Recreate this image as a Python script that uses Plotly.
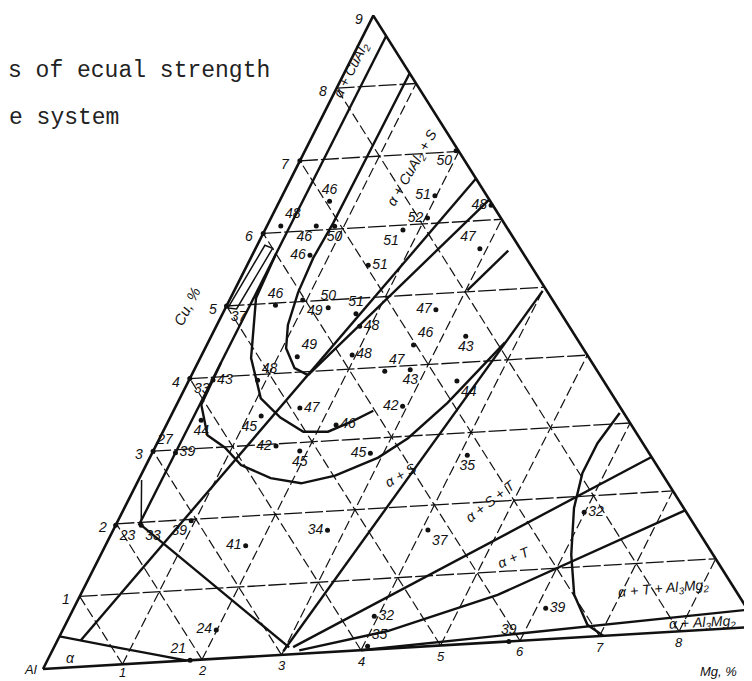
import plotly.graph_objects as go

# Moldura da folha escaneada: canto do Al e passo de 1 % em Mg e em Cu
ORIGEM = (35, 661)
PASSO_MG = (79.5, -4.7)
PASSO_CU = (36.7, -72.6)

COR = '#111111'
FONTE_NUM = 'Liberation Sans Narrow, Liberation Sans, Arial'
FONTE_MAQ = 'Liberation Mono, Courier New, monospace'

# Escalas dos eixos (%)
ticks_mg = [1, 2, 3, 4, 5, 6, 7, 8, 9]
ticks_cu = [1, 2, 3, 4, 5, 6, 7, 8, 9]
grade = [1, 2, 3, 4, 5, 6, 7, 8]

# Limites de fase (Mg %, Cu %)
cual2_mg = [0.3, 0.3]
cual2_cu = [1.96, 8.7]
alfa_s_mg = [0.3, 2.4]
alfa_s_cu = [0.37, 6.6]
solvus_mg = [0.0, 0.31, 0.83, 1.4, 1.8]
solvus_cu = [0.45, 0.37, 0.24, 0.10, 0.0]
baixo_mg = [0.33, 3.05]
baixo_cu = [1.96, 0.1]
gancho_mg = [0.33, 0.22, 0.1, 0.04]
gancho_cu = [1.96, 2.2, 2.45, 2.6]
p0_mg = [3.0, 4.0]
p0_cu = [0.05, 4.95]
p1_mg = [3.1, 6.5]
p1_cu = [0.1, 2.5]
p2_mg = [3.2, 4.22, 5.41, 7.28]
p2_cu = [0.05, 0.25, 0.67, 1.71]
p3_mg = [4.0, 8.75]
p3_cu = [0.0, 0.25]
direita_mg = [5.80, 5.71, 5.71, 5.83, 6.10, 6.40, 6.77, 7.05]
direita_cu = [3.15, 2.74, 2.33, 1.84, 1.18, 0.61, 0.17, 0.0]
trecho_mg = [3.02, 3.29]
trecho_cu = [5.02, 5.55]
caixa_mg = [0.03, 0.10, 0.22, 0.15, 0.03]
caixa_cu = [4.97, 5.83, 5.78, 4.95, 4.97]

# Linhas de igual resistencia
u1_mg = [0.85, 0.85, 0.84, 0.81, 0.84, 0.92, 1.05, 1.29, 1.51]
u1_cu = [8.15, 6.98, 6.09, 5.61, 5.13, 4.68, 4.35, 4.06, 3.95]
u1b_mg = [1.51, 2.02, 2.71]
u1b_cu = [3.95, 4.94, 6.29]
u2_mg = [0.3, 0.33, 0.66, 1.05, 1.43, 1.82, 2.14, 2.39, 2.59]
u2_cu = [5.7, 5.09, 4.24, 3.66, 3.37, 3.15, 3.13, 3.26, 3.39]
u3_mg = [0.3, 0.32, 0.6, 0.91, 1.23, 1.70, 2.13, 2.52, 2.96, 3.22, 3.5, 3.85]
u3_cu = [4.2, 3.62, 3.18, 2.99, 2.73, 2.52, 2.42, 2.50, 2.72, 2.97, 3.44, 4.25]

# Ligas ensaiadas: composicao e resistencia
liga_mg = [1.96, 1.98, 2.03, 2.77, 2.91, 0.65, 0.18, 0.64, 0.88, 0.75, 1.79, 1.57,
           0.63, 1.33, 1.73, 0.95, 1.25, 1.95, 1.86, 2.48, 2.74, 2.68, 3.30, 2.80,
           3.48, 2.94, 0.89, 0.31, 0.0, 1.62, 2.20, 0.0, 0.3, 0.42, 1.17, 1.56,
           1.90, 2.83, 4.10, 4.08, 2.78, 1.82, 0.95, 0.33, 0.0, 1.99, 1.85, 3.95,
           4.06, 5.86, 6.12, 5.99, 0.0, 0.0, 0.0]
liga_cu = [7.01, 6.39, 6.08, 6.21, 5.60, 6.40, 6.09, 6.06, 6.04, 5.65, 5.93, 5.46,
           4.97, 4.89, 4.78, 5.02, 4.22, 4.20, 4.60, 3.94, 4.77, 4.29, 4.37, 3.94,
           3.74, 3.43, 3.92, 3.96, 4.0, 3.49, 3.22, 3.0, 2.96, 3.40, 3.41, 2.97,
           2.88, 2.79, 2.68, 1.65, 1.73, 1.58, 1.98, 1.96, 1.98, 0.41, 0.0, 0.47,
           0.05, 0.0, 0.44, 1.77, 5.0, 7.0, 6.0]
liga_txt = ['50', '51', '52', '48', '47', '46', '48', '46', '50', '46', '51', '51',
            '46', '50', '51', '49', '49', '48', '48', '47', '47', '46', '43', '43',
            '44', '42', '48', '43', '33', '47', '46', '27', '39', '44', '45', '42',
            '45', '45', '35', '37', '34', '41', '39', '33', '23', '24', '21', '32',
            '35', '39', '39', '32', '37', '', '']
pos_txt = ['bottom left', 'middle left', 'middle left', 'middle left', 'top left',
           'top center', 'top right', 'bottom left', 'bottom center', 'middle left',
           'bottom left', 'middle right', 'top center', 'top center', 'top center',
           'bottom right', 'top right', 'middle right', 'middle right', 'top right',
           'middle left', 'top right', 'bottom center', 'bottom center', 'bottom right',
           'middle left', 'top right', 'middle right', 'bottom right', 'middle right',
           'middle right', 'top right', 'middle right', 'bottom center', 'bottom left',
           'middle left', 'bottom center', 'middle left', 'bottom center', 'bottom right',
           'middle left', 'middle left', 'bottom left', 'bottom right', 'bottom right',
           'middle left', 'top left', 'middle right', 'top right', 'top center',
           'middle right', 'middle right', 'bottom right', 'middle right', 'middle right']

# Campos de fase
campo_txt = ['α + CuAl<sub>2</sub>', 'α + CuAl<sub>2</sub> + S', 'α + S', 'α + S + T',
             'α + T', 'α + T + Al<sub>3</sub>Mg<sub>2</sub>', 'α + Al<sub>3</sub>Mg<sub>2</sub>', 'α']
campo_mg = [0.07, 1.51, 3.37, 4.70, 5.38, 7.52, 8.25, 0.29]
campo_cu = [8.25, 6.80, 2.45, 2.01, 1.19, 0.62, 0.10, 0.13]
campo_ang = [-63, -60, -30, -38, -23, -5, -3, 0]


def xy(mg, cu):
    xs = [None if m is None else ORIGEM[0] + m * PASSO_MG[0] + c * PASSO_CU[0] for m, c in zip(mg, cu)]
    ys = [None if m is None else ORIGEM[1] + m * PASSO_MG[1] + c * PASSO_CU[1] for m, c in zip(mg, cu)]
    return xs, ys


fig = go.Figure()


def linha(mg, cu, largura, dash='solid'):
    x, y = xy(mg, cu)
    fig.add_trace(go.Scatter(x=x, y=y, mode='lines', hoverinfo='skip',
                             line=dict(color=COR, width=largura, dash=dash)))


# grade triangular de 1 %
g_mg, g_cu = [], []
for v in grade:
    g_mg += [0, 9 - v, None]
    g_cu += [v, v, None]
linha(g_mg, g_cu, 1.3, dash='18px,3px')

d_mg, d_cu = [], []
for v in grade:
    d_mg += [v, v, None, v, 0, None]
    d_cu += [0, 9 - v, None, 0, v, None]
linha(d_mg, d_cu, 1.2, dash='10px,4px')

# contorno do triangulo
linha([0, 9, 0, 0], [0, 0, 9, 0], 2.6)

for mg, cu in [(cual2_mg, cual2_cu), (alfa_s_mg, alfa_s_cu), (solvus_mg, solvus_cu),
               (baixo_mg, baixo_cu), (p0_mg, p0_cu), (p1_mg, p1_cu), (p2_mg, p2_cu),
               (p3_mg, p3_cu), (direita_mg, direita_cu), (trecho_mg, trecho_cu),
               (u1_mg, u1_cu), (u1b_mg, u1b_cu), (u2_mg, u2_cu), (u3_mg, u3_cu)]:
    linha(mg, cu, 2.4)
linha(gancho_mg, gancho_cu, 1.5)
linha(caixa_mg, caixa_cu, 1.5)

# pontos das ligas
px, py = xy(liga_mg, liga_cu)
fig.add_trace(go.Scatter(
    x=px, y=py, mode='markers+text',
    marker=dict(color=COR, size=5),
    text=liga_txt, textposition=pos_txt,
    textfont=dict(family=FONTE_NUM, size=14, color=COR, style='italic'),
    hoverinfo='skip'
))

# nomes dos campos
cx, cy = xy(campo_mg, campo_cu)
for t, x, y, a in zip(campo_txt, cx, cy, campo_ang):
    fig.add_annotation(x=x, y=y, text=t, textangle=a, showarrow=False,
                       font=dict(family=FONTE_NUM, size=14, color=COR, style='italic'))

# escalas
bx, by = xy(ticks_mg, [0] * len(ticks_mg))
for v, x, y in zip(ticks_mg, bx, by):
    fig.add_annotation(x=x, y=y, text=str(v), showarrow=False,
                       yshift=-8 if v == 1 else -11,
                       xshift=-9 if v == 9 else 0,
                       font=dict(family=FONTE_NUM, size=13, color=COR, style='italic'))
lx, ly = xy([0] * len(ticks_cu), ticks_cu)
for v, x, y in zip(ticks_cu, lx, ly):
    fig.add_annotation(x=x, y=y, text=str(v), showarrow=False, xshift=-14, yshift=-3,
                       font=dict(family=FONTE_NUM, size=14, color=COR, style='italic'))

ox, oy = xy([0], [0])
fig.add_annotation(x=ox[0], y=oy[0], text='Al', showarrow=False, xshift=-12, yshift=0,
                   font=dict(family=FONTE_NUM, size=13, color=COR, style='italic'))
mx, my = xy([8.5], [0])
fig.add_annotation(x=mx[0], y=my[0], text='Mg, %', showarrow=False, yshift=-42,
                   font=dict(family=FONTE_NUM, size=13, color=COR, style='italic'))
ex, ey = xy([0], [5.0])
fig.add_annotation(x=ex[0], y=ey[0], text='Cu, %', showarrow=False, textangle=-63,
                   xshift=-40, yshift=0,
                   font=dict(family=FONTE_NUM, size=15, color=COR, style='italic'))

# texto datilografado que sobra da legenda
fig.add_annotation(xref='paper', yref='paper', x=0, y=1 - 63 / 681,
                   xanchor='left', yanchor='middle', xshift=-2,
                   text='s of ecual strength', showarrow=False,
                   font=dict(family=FONTE_MAQ, size=23, color='#222'))
fig.add_annotation(xref='paper', yref='paper', x=0, y=1 - 110 / 681,
                   xanchor='left', yanchor='middle', xshift=-1,
                   text='e system', showarrow=False,
                   font=dict(family=FONTE_MAQ, size=23, color='#222'))

fig.update_layout(
    width=752, height=681,
    margin=dict(l=0, r=0, t=0, b=0),
    plot_bgcolor='white', paper_bgcolor='white',
    showlegend=False,
    xaxis=dict(range=[0, 752], visible=False),
    yaxis=dict(range=[681, 0], visible=False),
)

fig.write_html("out.html")
